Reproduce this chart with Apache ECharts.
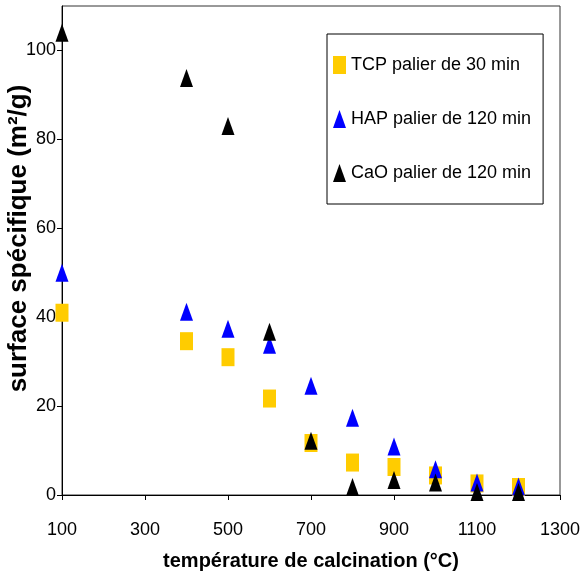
<!DOCTYPE html>
<html>
<head>
<meta charset="utf-8">
<script src="https://cdn.jsdelivr.net/npm/echarts@6/dist/echarts.min.js"></script>
<style>
  html, body { margin: 0; padding: 0; background: #fff; }
  #chart { width: 584px; height: 577px; }
</style>
</head>
<body>
<div id="chart"></div>
<script>
// températures (°C)
var temperatures = [100, 400, 500, 600, 700, 800, 900, 1000, 1100, 1200];
// surface spécifique (m²/g)
var tcpValues = [41, 34.6, 31, 21.7, 11.7, 7.3, 6.3, 4.4, 2.6, 1.8];
var hapValues = [50, 41.2, 37.4, 33.8, 24.6, 17.4, 10.9, 5.8, 2.8, 1.9];
var caoValues = [104, 93.8, 83, 36.7, 12.2, 1.8, 3.4, 2.8, 0.7, 0.7];
var seriesNames = ['TCP palier de 30 min', 'HAP palier de 120 min', 'CaO palier de 120 min'];

var font = '"Liberation Sans", Arial, sans-serif';

function pairs (vals) {
  return temperatures.map(function (t, i) { return [t, vals[i]]; });
}

var myChart = echarts.init(document.getElementById('chart'));
var option = {
  animation: false,
  backgroundColor: '#fff',
  grid: {
    left: 62,
    right: 24,
    top: 6,
    bottom: 82,
    containLabel: false,
    outerBoundsMode: 'none',
    show: true,
    borderColor: '#333',
    borderWidth: 1
  },
  legend: {
    orient: 'vertical',
    left: 327,
    top: 34,
    width: 210,
    padding: [22, 12, 22, 6],
    itemGap: 36,
    itemWidth: 13,
    itemHeight: 18,
    borderColor: '#000',
    borderWidth: 1,
    backgroundColor: '#fff',
    textStyle: { fontFamily: font, fontSize: 18, color: '#000' },
    data: seriesNames
  },
  xAxis: {
    type: 'value',
    min: 100,
    max: 1300,
    interval: 200,
    name: 'température de calcination (°C)',
    nameLocation: 'middle',
    nameGap: 56,
    nameMoveOverlap: false,
    nameTextStyle: { fontFamily: font, fontSize: 20, fontWeight: 'bold', color: '#000' },
    axisLine: { lineStyle: { color: '#000', width: 1 } },
    axisTick: { show: true, length: 5, lineStyle: { color: '#000' } },
    axisLabel: {
      fontFamily: font, fontSize: 18, color: '#000', margin: 26,
      formatter: function (v) { return String(v); }
    },
    splitLine: { show: false }
  },
  yAxis: {
    type: 'value',
    min: 0,
    max: 110,
    interval: 20,
    name: 'surface spécifique (m²/g)',
    nameLocation: 'middle',
    nameRotate: 90,
    nameGap: 30,
    nameMoveOverlap: false,
    nameTextStyle: { fontFamily: font, fontSize: 26, fontWeight: 'bold', color: '#000', padding: [0, 0, 0, 24] },
    axisLine: { show: true, lineStyle: { color: '#000', width: 1 } },
    axisTick: { show: true, length: 5, lineStyle: { color: '#000' } },
    axisLabel: { fontFamily: font, fontSize: 18, color: '#000', margin: 6, showMaxLabel: false },
    splitLine: { show: false }
  },
  series: [
    {
      name: seriesNames[0],
      type: 'scatter',
      symbol: 'rect',
      symbolSize: [13, 18],
      itemStyle: { color: '#FFCC00', opacity: 1 },
      data: pairs(tcpValues)
    },
    {
      name: seriesNames[1],
      type: 'scatter',
      symbol: 'triangle',
      symbolSize: [13, 18],
      itemStyle: { color: '#0000FF', opacity: 1 },
      data: pairs(hapValues)
    },
    {
      name: seriesNames[2],
      type: 'scatter',
      symbol: 'triangle',
      symbolSize: [13, 18],
      itemStyle: { color: '#000000', opacity: 1 },
      data: pairs(caoValues)
    }
  ]
};
option && myChart.setOption(option);
</script>
</body>
</html>
